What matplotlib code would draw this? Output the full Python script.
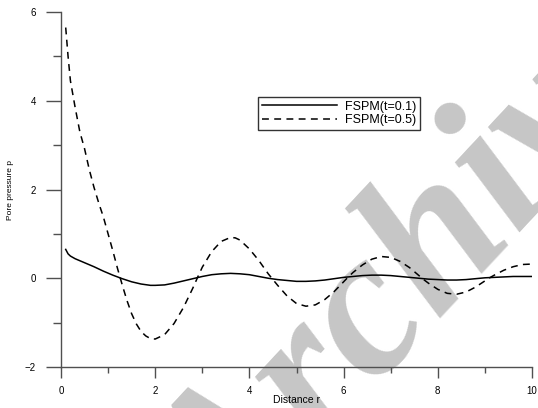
import numpy as np
import matplotlib
matplotlib.use("Agg")
import matplotlib.pyplot as plt

# FSPM(t=0.1) - linea continua
r_t01 = [0.1, 0.15, 0.2, 0.3, 0.5, 0.7, 0.9, 1.1, 1.3, 1.5, 1.7, 1.9, 2.0,
         2.2, 2.4, 2.6, 2.8, 3.0, 3.2, 3.4, 3.6, 3.8, 4.0, 4.2, 4.4, 4.6,
         4.8, 5.0, 5.2, 5.4, 5.6, 5.8, 6.0, 6.2, 6.4, 6.6, 6.8, 7.0, 7.2,
         7.4, 7.6, 7.8, 8.0, 8.2, 8.4, 8.6, 8.8, 9.0, 9.2, 9.4, 9.6, 9.8, 10.0]
p_t01 = [0.65, 0.55, 0.50, 0.44, 0.35, 0.26, 0.16, 0.07, -0.01, -0.08, -0.13,
         -0.16, -0.16, -0.15, -0.11, -0.06, -0.01, 0.04, 0.08, 0.10, 0.11,
         0.10, 0.08, 0.04, 0.00, -0.03, -0.05, -0.07, -0.07, -0.06, -0.04,
         -0.01, 0.02, 0.04, 0.06, 0.07, 0.07, 0.06, 0.04, 0.02, 0.00, -0.02,
         -0.03, -0.04, -0.04, -0.03, -0.01, 0.01, 0.02, 0.03, 0.04, 0.04, 0.04]

# FSPM(t=0.5) - linea discontinua
r_t05 = [0.1, 0.15, 0.2, 0.3, 0.4, 0.5, 0.6, 0.7, 0.8, 0.9, 1.0, 1.1, 1.2,
         1.3, 1.4, 1.5, 1.6, 1.7, 1.8, 1.9, 2.0, 2.2, 2.4, 2.6, 2.8, 2.9,
         3.0, 3.2, 3.4, 3.6, 3.7, 3.8, 4.0, 4.2, 4.4, 4.5, 4.6, 4.8, 5.0,
         5.2, 5.4, 5.6, 5.8, 6.0, 6.1, 6.2, 6.4, 6.6, 6.8, 7.0, 7.2, 7.4,
         7.6, 7.7, 7.8, 8.0, 8.2, 8.4, 8.6, 8.8, 9.0, 9.1, 9.2, 9.4, 9.6,
         9.8, 10.0]
p_t05 = [5.65, 5.00, 4.45, 3.85, 3.30, 2.92, 2.45, 2.05, 1.70, 1.38, 1.00,
         0.62, 0.22, -0.15, -0.50, -0.80, -1.03, -1.20, -1.30, -1.36, -1.37,
         -1.27, -1.02, -0.66, -0.22, 0.02, 0.25, 0.60, 0.83, 0.92, 0.91,
         0.86, 0.66, 0.40, 0.10, -0.03, -0.16, -0.40, -0.57, -0.63, -0.60,
         -0.48, -0.30, -0.08, 0.03, 0.13, 0.30, 0.43, 0.49, 0.47, 0.38, 0.24,
         0.06, -0.03, -0.11, -0.25, -0.34, -0.36, -0.31, -0.20, -0.06, 0.01,
         0.07, 0.18, 0.26, 0.31, 0.32]

xticks = [0, 2, 4, 6, 8, 10]
yticks = [-2, 0, 2, 4, 6]

plt.rcParams["font.family"] = ["Liberation Sans", "DejaVu Sans"]

fig = plt.figure(figsize=(5.38, 4.08), dpi=100)
ax = fig.add_axes([61 / 538, 1 - 367 / 408, 471 / 538, 355 / 408])
ax.patch.set_alpha(0)

# marca de agua (cortada por el borde, como en el original)
fig.text(0.425, -0.365, "Archive", fontsize=150, family="Liberation Serif",
         style="italic", weight="bold", color="#c6c6c6", rotation=47,
         rotation_mode="anchor", ha="left", va="baseline", zorder=-5)

ax.plot(r_t01, p_t01, color="black", lw=1.1, label="FSPM(t=0.1)")
ax.plot(r_t05, p_t05, color="black", lw=1.1, dashes=(4.5, 3.5),
        label="FSPM(t=0.5)")

ax.set_xlim(0, 10)
ax.set_ylim(-2, 6)
ax.set_xticks(xticks)
ax.set_yticks(yticks)
ax.set_xticks(np.arange(1, 10, 2), minor=True)
ax.set_yticks([-1, 1, 3, 5], minor=True)

for s in ["top", "right"]:
    ax.spines[s].set_visible(False)
for s in ["left", "bottom"]:
    ax.spines[s].set_color("#505050")
    ax.spines[s].set_linewidth(1.0)

ax.tick_params(axis="x", which="major", direction="out", length=8, width=1,
               color="#505050", labelsize=7, pad=6)
ax.tick_params(axis="x", which="minor", direction="out", length=4, width=1,
               color="#505050")
ax.tick_params(axis="y", which="major", direction="out", length=11, width=1,
               color="#505050", labelsize=7, pad=7)
ax.tick_params(axis="y", which="minor", direction="out", length=6, width=1,
               color="#505050")

ax.set_xlabel("Distance r", fontsize=7.5, labelpad=-1)
ax.set_ylabel("Pore pressure p", fontsize=6, labelpad=8)

leg = ax.legend(loc="upper left", bbox_to_anchor=(197 / 471, 1 - 85 / 355),
                fontsize=9, frameon=True, fancybox=False, handlelength=6.0,
                handletextpad=0.65, borderpad=0.3, labelspacing=0.1,
                borderaxespad=0)
leg.get_frame().set_edgecolor("black")
leg.get_frame().set_linewidth(1.0)

fig.savefig("out.png", dpi=100)
